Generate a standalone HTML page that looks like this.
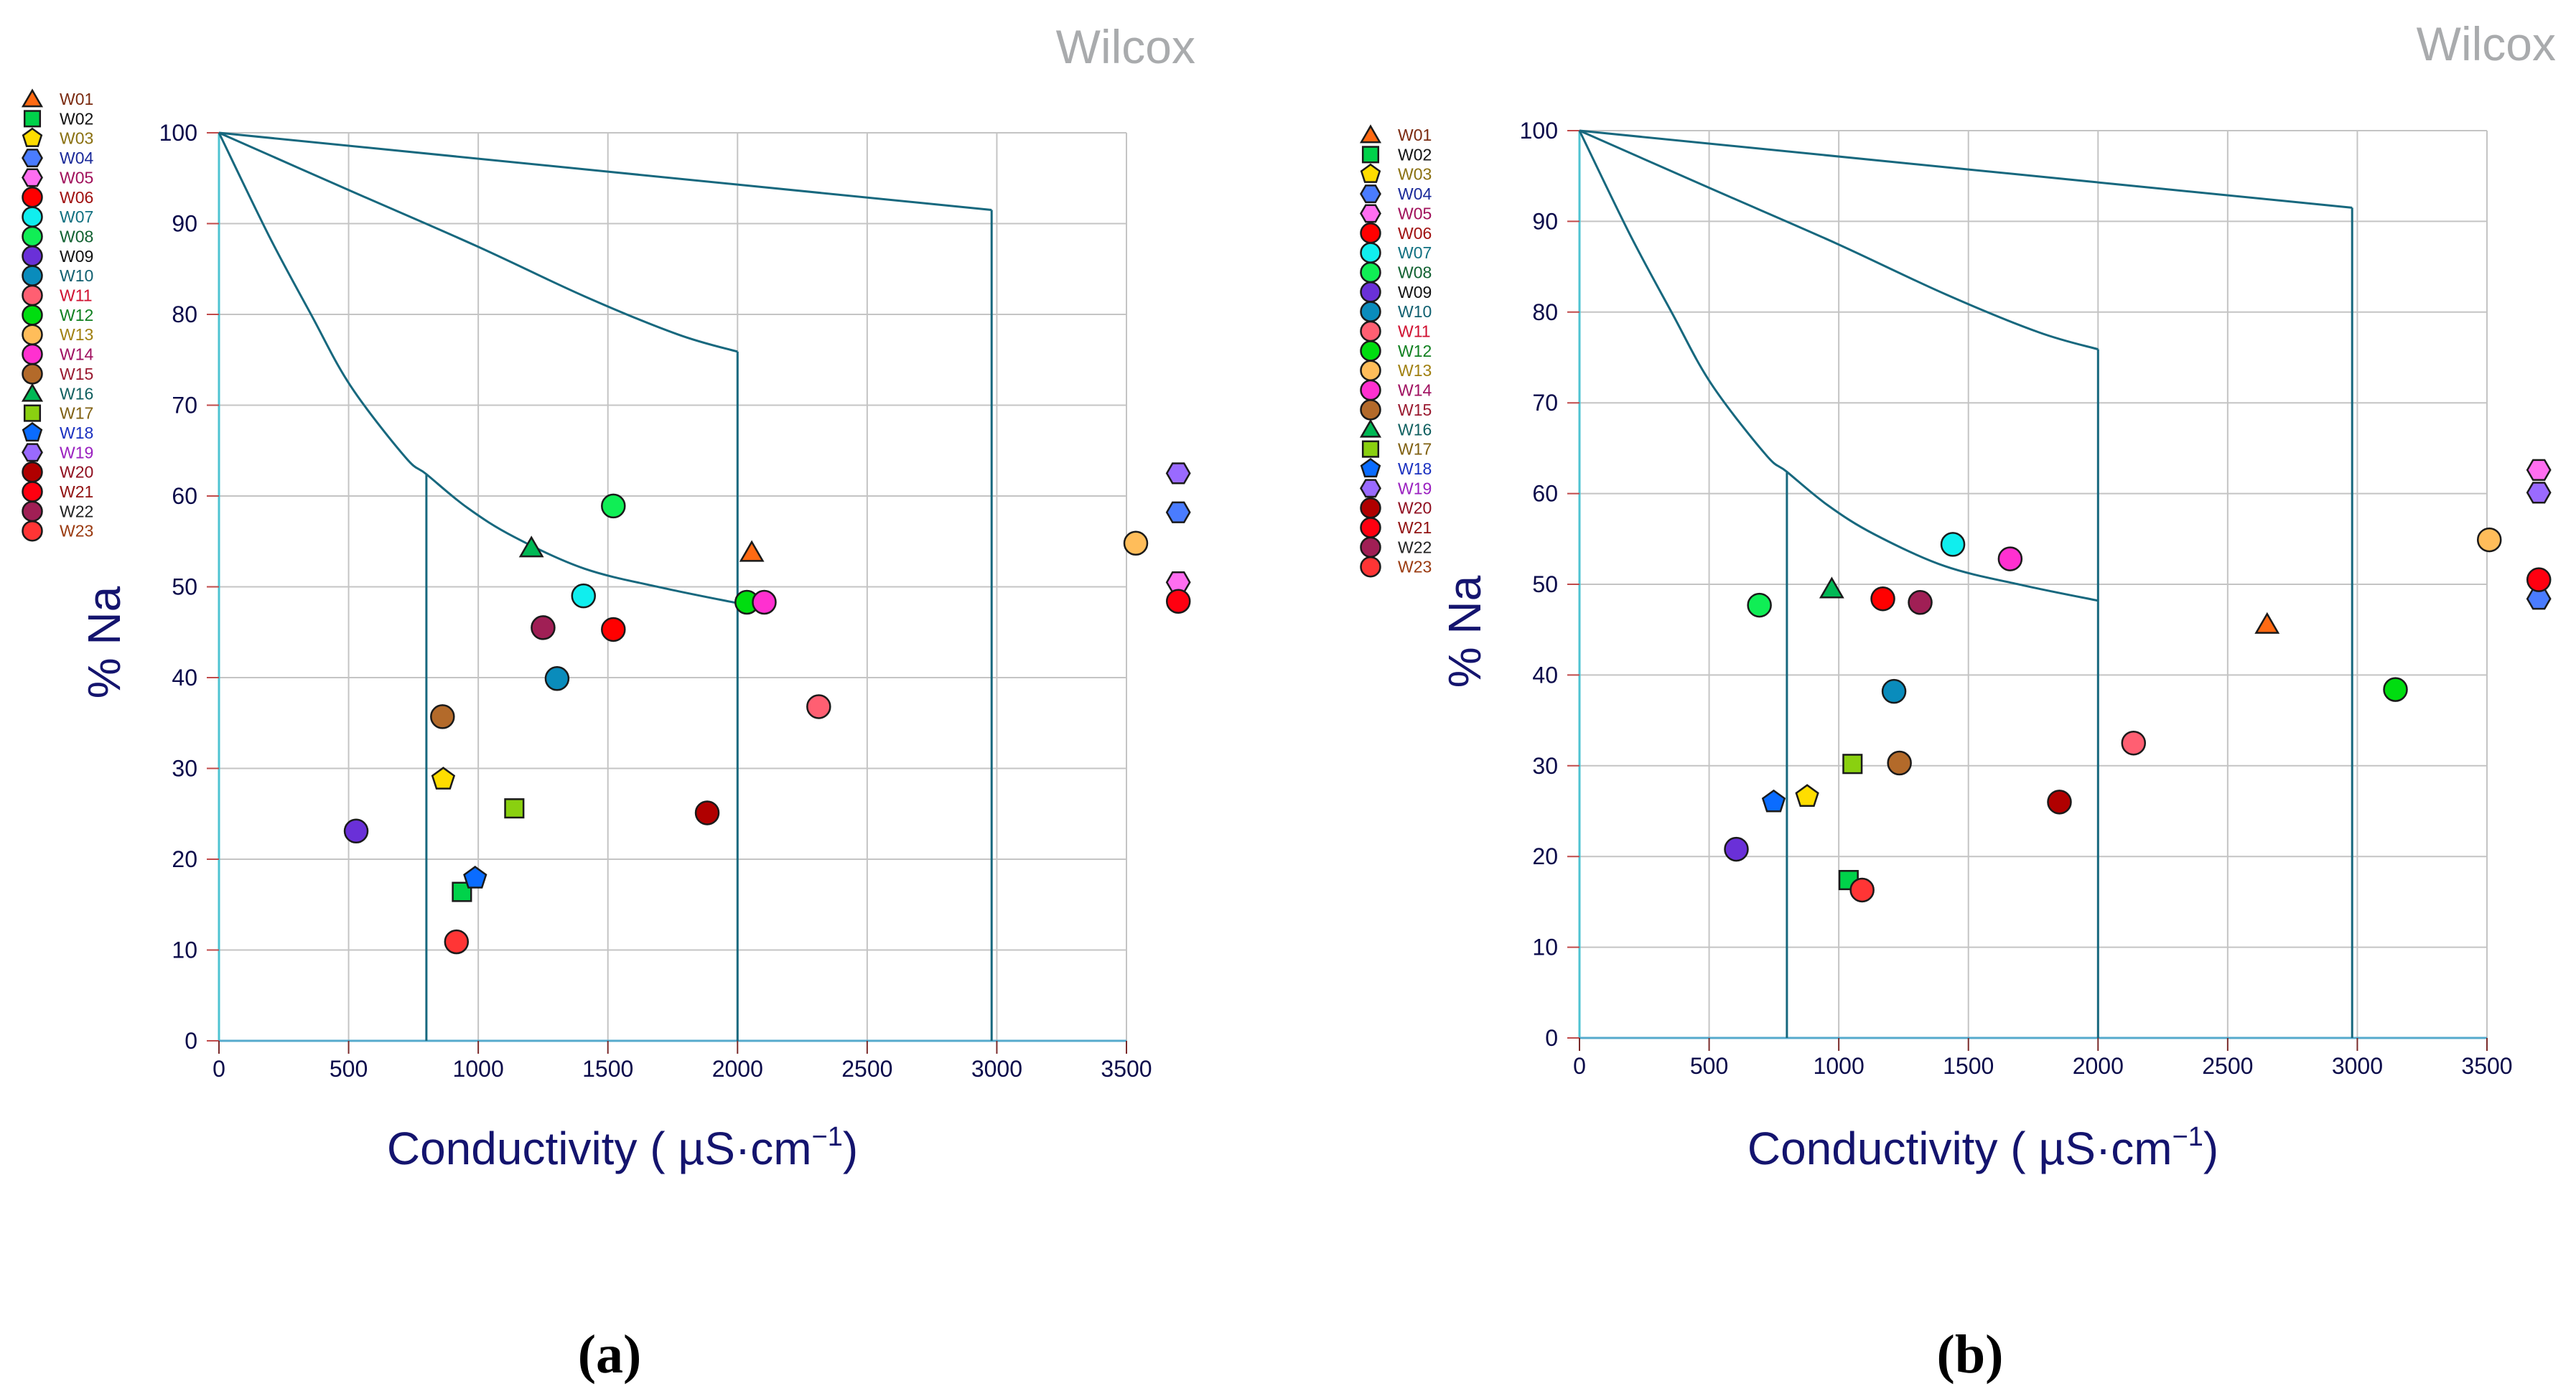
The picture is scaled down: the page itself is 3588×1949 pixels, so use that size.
<!DOCTYPE html>
<html><head><meta charset="utf-8"><style>
html,body{margin:0;padding:0;background:#fff;}
svg{display:block;font-family:"Liberation Sans",Arial,sans-serif;}
</style></head><body>
<svg id="chart" width="3588" height="1949" viewBox="0 0 3588 1949" xmlns="http://www.w3.org/2000/svg">
<rect width="3588" height="1949" fill="#fff"/>
</svg>
<script>
const ids = ["W01","W02","W03","W04","W05","W06","W07","W08","W09","W10","W11","W12","W13","W14","W15","W16","W17","W18","W19","W20","W21","W22","W23"];
const shapes = ["tri","sq","pent","hex","hex","oct","oct","oct","oct","oct","oct","oct","oct","oct","oct","tri","sq","pent","hex","oct","oct","oct","oct"];
const fills = ["#ff6a13","#00d24a","#ffdd00","#4a7cff","#ff6ef0","#ff0000","#10eeee","#10ee55","#6a30d8","#0a8cbc","#ff5f72","#00dd10","#ffbd5a","#ff30d0","#b36a2a","#00b855","#8ad010","#0a6cff","#9a6aff","#b00000","#ff0010","#a01f55","#ff3535"];
const labelColors = ["#7a2a10","#111","#8a7010","#1a2a9a","#a0105a","#a01010","#107080","#106030","#111","#106070","#d01030","#108020","#a08010","#a01060","#9a1a30","#106060","#806010","#1a30c0","#9a20c0","#901020","#901010","#222","#9a3a10"];
const xA = [2055,937,865,3700,3700,1521,1406,1521,529,1304,2313,2036,3536,2103,862,1205,1139,988,3700,1883,3700,1250,916];
const yA = [53.8,16.4,28.8,58.2,50.5,45.3,49.0,58.9,23.1,39.9,36.8,48.3,54.8,48.3,35.7,54.3,25.6,17.9,62.5,25.1,48.4,45.5,10.9];
const xB = [2652,1038,878,3700,3700,1170,1440,694,605,1213,2137,3147,3509,1661,1234,973,1053,749,3700,1851,3700,1314,1090];
const yB = [45.6,17.4,26.6,48.4,62.6,48.4,54.4,47.7,20.8,38.2,32.5,38.4,54.9,52.8,30.3,49.5,30.2,26.0,60.1,26.0,50.5,48.0,16.3];
const xTicks = [0,500,1000,1500,2000,2500,3000,3500];
const yTicks = [0,10,20,30,40,50,60,70,80,90,100];
const curve1X = [0,192,357,508,718,800,958,1138,1409,1709,2000];
const curve1Y = [100,88.7,79.9,72.1,64.3,62.4,58.7,55.5,52.0,49.9,48.2];
const curve2X = [0,508,988,1409,1769,2000];
const curve2Y = [100,93.6,87.6,82.0,77.8,75.9];
const line3X = [0,2980];
const line3Y = [100,91.5];

const NS="http://www.w3.org/2000/svg";
const svg=document.getElementById('chart');
function mk(tag,attrs,parent){const e=document.createElementNS(NS,tag);for(const k in attrs)e.setAttribute(k,attrs[k]);(parent||svg).appendChild(e);return e;}

function marker(g,shape,cx,cy,r,fill){
  let e;
  const st={fill:fill,stroke:"#1a1a1a","stroke-width":2.5};
  if(shape==="sq"){e=mk('rect',Object.assign({x:cx-r*0.8,y:cy-r*0.8,width:r*1.6,height:r*1.6},st),g);}
  else if(shape==="oct"){e=mk('circle',Object.assign({cx:cx,cy:cy,r:r},st),g);}
  else{
    let n=shape==="tri"?3:shape==="pent"?5:6, rot=shape==="hex"?0:-Math.PI/2, rr=shape==="tri"?r*1.1:r;
    let pts=[];for(let i=0;i<n;i++){const a=rot+i*2*Math.PI/n;pts.push((cx+rr*Math.cos(a)).toFixed(1)+","+(cy+rr*Math.sin(a)+(shape==="tri"?r*0.2:0)).toFixed(1));}
    e=mk('polygon',Object.assign({points:pts.join(" ")},st),g);
  }
  return e;
}

function panel(p){
  const g=mk('g',{});
  
  
  const sx=v=>p.x0+v*(p.x1-p.x0)/3500;
  const sy=v=>p.y0-v*(p.y0-p.y100)/100;
  const grid=mk('g',{},g);
  
  
  yTicks.forEach(t=>{ if(t>0){const l=mk('line',{x1:sx(0),x2:sx(3500),y1:sy(t),y2:sy(t),stroke:"#c4c4c4","stroke-width":2},grid);
    
    }});
  xTicks.forEach(t=>{ if(t>0){const l=mk('line',{x1:sx(t),x2:sx(t),y1:sy(0),y2:sy(100),stroke:"#c4c4c4","stroke-width":2},grid);
    
    }});
  const ax=mk('g',{},g);
  
  
  mk('line',{x1:sx(0),x2:sx(0),y1:sy(0),y2:sy(100),stroke:"#4ec3d2","stroke-width":3},ax);
  mk('line',{x1:sx(0),x2:sx(3500),y1:sy(0),y2:sy(0),stroke:"#55aacc","stroke-width":3},ax);
  yTicks.forEach(t=>{
    mk('line',{x1:sx(0)-17,x2:sx(0),y1:sy(t),y2:sy(t),stroke:"#c04a4a","stroke-width":2},ax);
    const tx=mk('text',{x:sx(0)-30,y:sy(t)+11,"text-anchor":"end","font-size":32,fill:"#0a0a4a"},ax);
    tx.textContent=t;
    
    
  });
  xTicks.forEach(t=>{
    mk('line',{x1:sx(t),x2:sx(t),y1:sy(0),y2:sy(0)+18,stroke:"#7a2a2a","stroke-width":2},ax);
    const tx=mk('text',{x:sx(t),y:sy(0)+50,"text-anchor":"middle","font-size":32,fill:"#0a0a4a"},ax);
    tx.textContent=t;
    
    
  });
  const bd=mk('g',{fill:"none",stroke:"#17687e","stroke-width":3},g);
  
  
  function poly(X,Y,name){
    const P=X.map((x,i)=>[sx(x),sy(Y[i])]);
    let d='M'+P[0][0].toFixed(1)+' '+P[0][1].toFixed(1);
    for(let i=0;i<P.length-1;i++){
      const p0=P[Math.max(0,i-1)],p1=P[i],p2=P[i+1],p3=P[Math.min(P.length-1,i+2)];
      const c1=[p1[0]+(p2[0]-p0[0])/6,p1[1]+(p2[1]-p0[1])/6];
      const c2=[p2[0]-(p3[0]-p1[0])/6,p2[1]-(p3[1]-p1[1])/6];
      d+=' C'+c1[0].toFixed(1)+' '+c1[1].toFixed(1)+' '+c2[0].toFixed(1)+' '+c2[1].toFixed(1)+' '+p2[0].toFixed(1)+' '+p2[1].toFixed(1);
    }
    const e=mk('path',{d:d},bd);
    
    }
  poly(curve1X,curve1Y,'boundary-curve-1');
  poly(curve2X,curve2Y,'boundary-curve-2');
  poly(line3X,line3Y,'boundary-line-3');
  poly([800,800],[0,curve1Y[5]],'boundary-vertical-800');
  poly([2000,2000],[0,curve2Y[curve2Y.length-1]],'boundary-vertical-2000');
  poly([2980,2980],[0,line3Y[1]],'boundary-vertical-2980');
  const pg=mk('g',{},g);
  
  
  ids.forEach((id,i)=>{
    const m=marker(pg,shapes[i],sx(p.X[i]),sy(p.Y[i]),16,fills[i]);
    
    
  });
  const lg=mk('g',{},g);
  
  
  ids.forEach((id,i)=>{
    const cy=p.legY+i*27.35;
    const m=marker(lg,shapes[i],p.legX,cy,13.5,fills[i]);
    
    
    const t=mk('text',{x:p.legX+38,y:cy+8,"font-size":23,fill:labelColors[i]},lg);
    t.textContent=id;
    
    
  });
  const w=mk('text',{x:p.x1+96,y:p.wilY,"text-anchor":"end","font-size":66,fill:"#a9abad"},g);
  w.textContent="Wilcox";
  
  
  const yt=mk('text',{x:0,y:0,"text-anchor":"middle","font-size":64,fill:"#14146e",transform:"translate("+(p.x0-138)+","+(p.yTitleY)+") rotate(-90)"},g);
  yt.textContent="% Na";
  
  
  const xt=mk('text',{x:(p.x0+p.x1)/2-70,y:1622,"text-anchor":"middle","font-size":64,fill:"#14146e"},g);
  xt.innerHTML='Conductivity ( µS·cm<tspan font-size="38" dy="-26">−1</tspan><tspan dy="26">)</tspan>';
  
  
  const pl=mk('text',{x:(p.x0+p.x1)/2-88,y:1912,"text-anchor":"middle","font-size":76,"font-weight":"bold","font-family":"Liberation Serif,serif",fill:"#000"},g);
  pl.textContent="("+p.tag+")";
  
  
}
panel({tag:"a",x0:305,x1:1569,y0:1450,y100:185,X:xA,Y:yA,legX:45,legY:138,wilY:88,yTitleY:895});
panel({tag:"b",x0:2200,x1:3464,y0:1446,y100:182,X:xB,Y:yB,legX:1909,legY:188,wilY:84,yTitleY:880});
</script>
</body></html>
